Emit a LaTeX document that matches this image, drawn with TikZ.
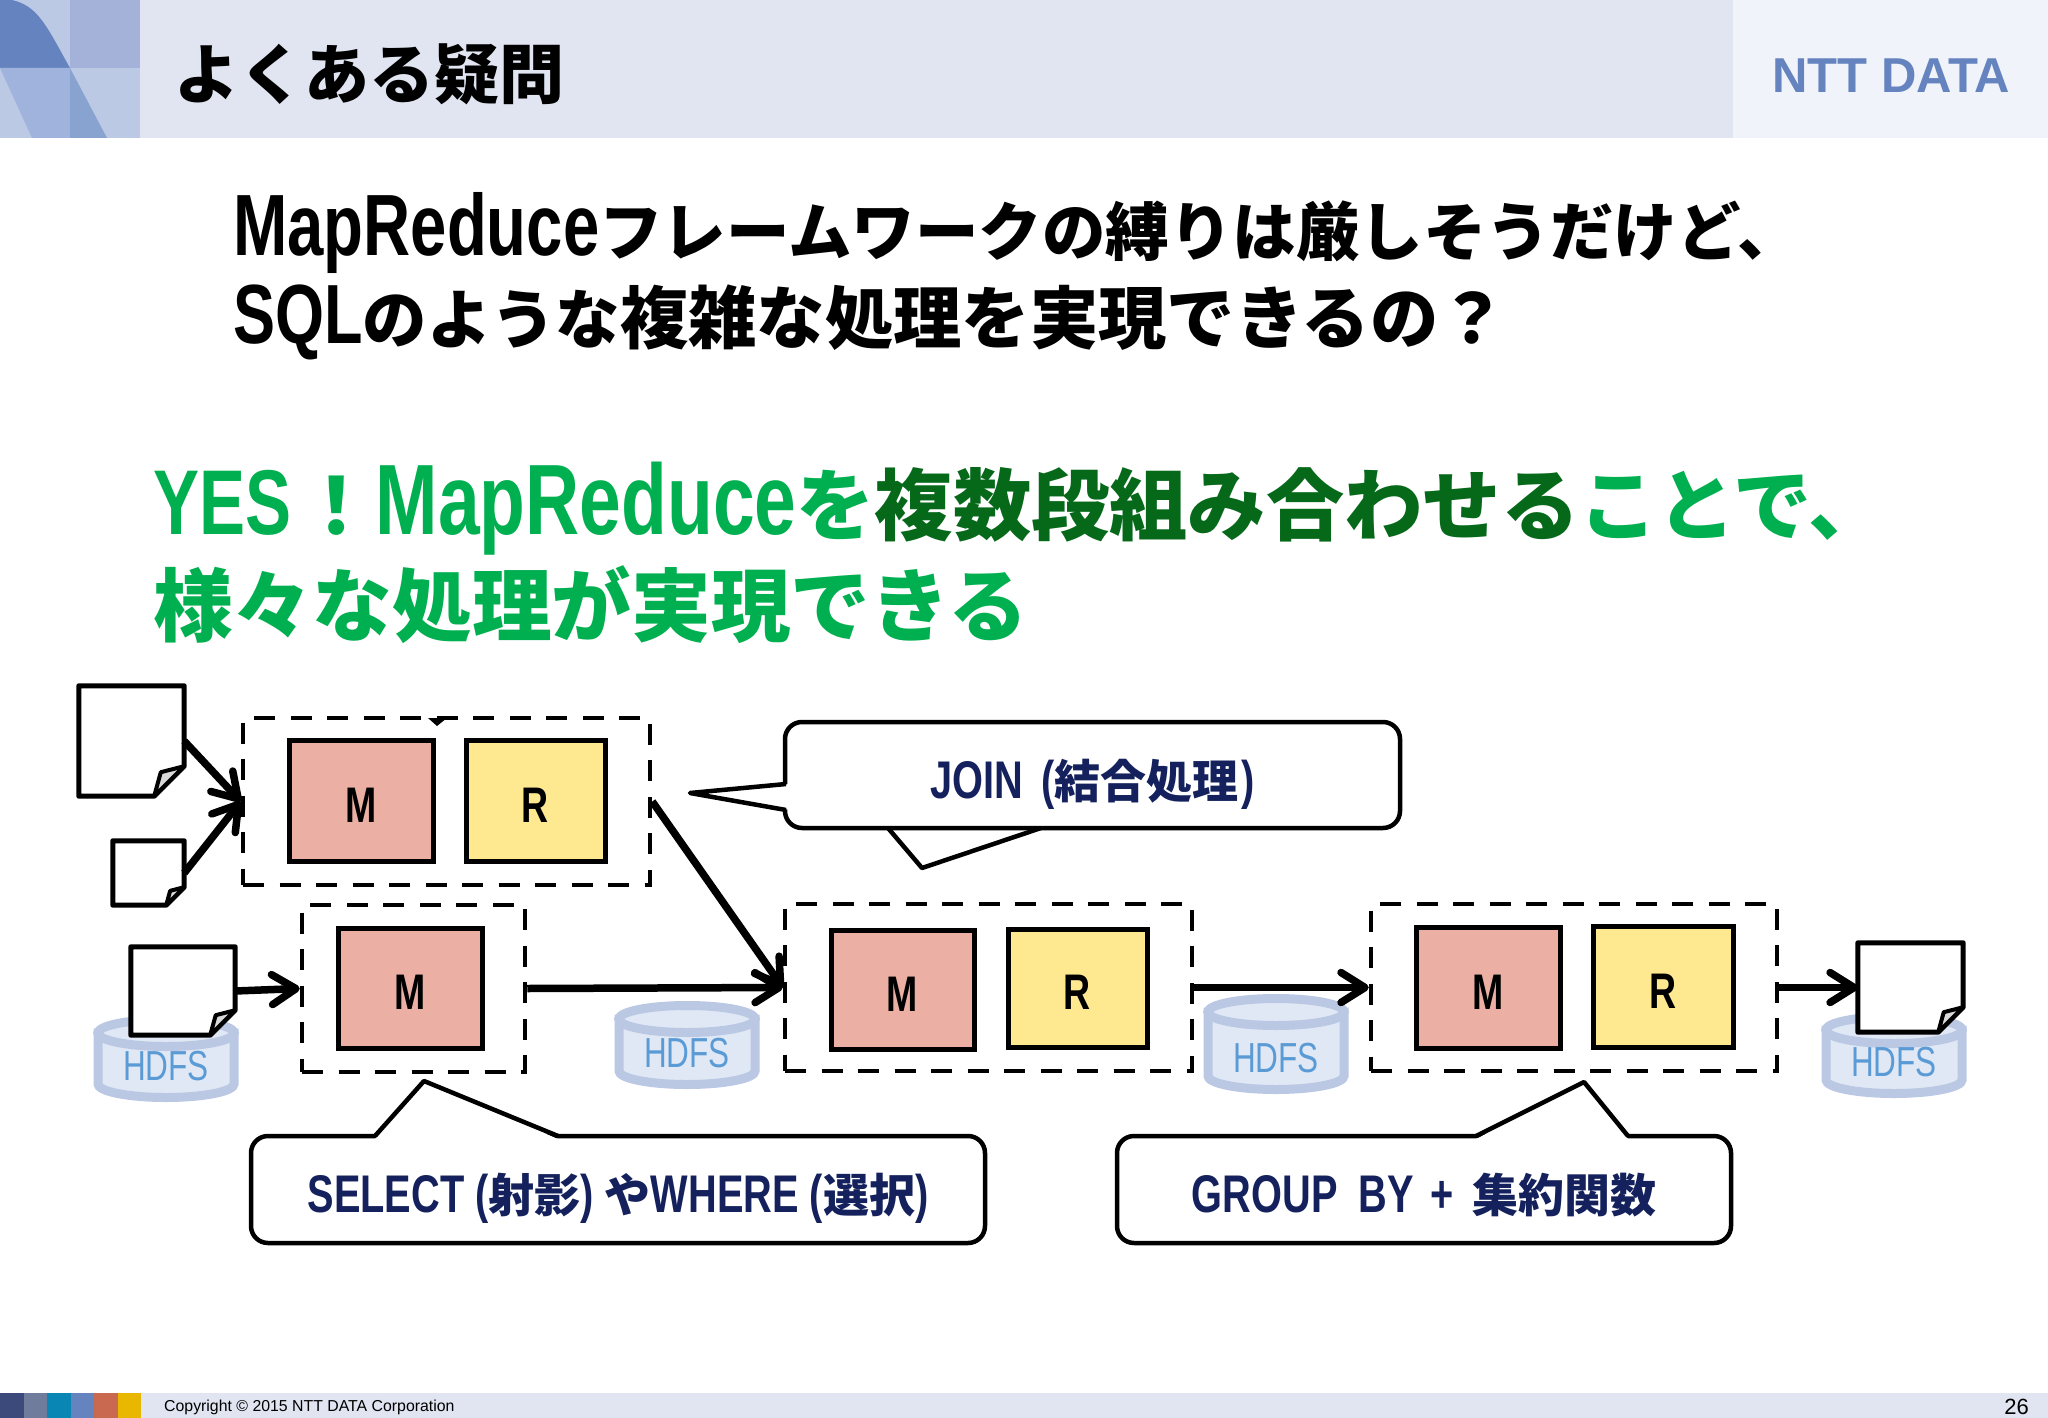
\documentclass[tikz,border=0pt]{standalone}
\usepackage{fontspec}
\usetikzlibrary{arrows.meta,calc}
\newfontfamily\jpfont{Noto Sans CJK JP}
\newfontfamily\jpblack{Noto Sans CJK JP Black}
\newfontfamily\narrowsans[FakeStretch=0.75,BoldFont={Liberation Sans Bold}]{Liberation Sans}
\newfontfamily\plainsans{Liberation Sans}
\definecolor{bandblue}{HTML}{E0E5F1}
\definecolor{bandpale}{HTML}{F0F3F9}
\definecolor{logoblue}{HTML}{6584BF}
\definecolor{logobase}{HTML}{BCC9E5}
\definecolor{logomid}{HTML}{A4B2DA}
\definecolor{logosoft}{HTML}{A0B3DC}
\definecolor{logodeep}{HTML}{88A3CF}
\definecolor{stripnavy}{HTML}{3B4A7B}
\definecolor{stripgrey}{HTML}{6F7C9C}
\definecolor{stripteal}{HTML}{0A86B4}
\definecolor{stripred}{HTML}{C9694F}
\definecolor{stripgold}{HTML}{E9B700}
\definecolor{yesgreen}{HTML}{00B050}
\definecolor{darkgreen}{HTML}{06691A}
\definecolor{notenavy}{HTML}{14215C}
\definecolor{mapred}{HTML}{EBAFA4}
\definecolor{redyellow}{HTML}{FEE890}
\definecolor{cylline}{HTML}{BBC8E4}
\definecolor{cylfill}{HTML}{E0E8F5}
\definecolor{hdfsblue}{HTML}{5B9BD5}
\newcommand{\lat}[2]{{\narrowsans\fontsize{#1}{#1}\selectfont #2}}
\tikzset{
  flow/.style={->,line width=7.5pt,>={Straight Barb[length=24pt,width=30pt,round]}},
  stepgroup/.style={draw,dashed,line width=4.5pt,dash pattern=on 21pt off 15.5pt},
  mapbox/.style={draw,fill=mapred,line width=5pt,text height=43pt,text depth=0pt,font=\narrowsans\bfseries\fontsize{50}{50}\selectfont},
  reducebox/.style={draw,fill=redyellow,line width=5pt,text height=43pt,text depth=0pt,font=\narrowsans\bfseries\fontsize{50}{50}\selectfont},
  notebox/.style={draw,fill=white,line width=4.5pt,rounded corners=17pt,text=notenavy,text height=46pt,text depth=0pt,font=\jpfont\bfseries\fontsize{46}{46}\selectfont},
  headline/.style={anchor=base west,inner sep=0pt,font=\jpfont\bfseries\fontsize{63.5}{64}\selectfont},
  greenline/.style={anchor=base west,inner sep=0pt,text=yesgreen,font=\jpfont\bfseries\fontsize{78.3}{78}\selectfont},
  cyl/.style={draw=cylline,fill=cylfill,line width=9pt},
  paperbox/.style={inner sep=0pt,minimum width=#1},
}
\newcommand{\paper}[6]{
  \node[paperbox=#4pt,minimum height=#5pt] (#1) at (#2,#3) {};
  \draw[line width=5pt,line join=round,fill=white] (#1.north west) -- (#1.north east) -- ([yshift=#6pt]#1.south east) -- ([xshift=-#6pt]#1.south east) -- (#1.south west) -- cycle;
  \draw[line width=4pt,line join=round,fill=black!15] ([yshift=#6pt]#1.south east) -- ([xshift=-#6pt+0.22*#6pt,yshift=#6pt-0.2*#6pt]#1.south east) -- ([xshift=-#6pt]#1.south east) -- cycle;
}
\newcommand{\hdfs}[4]{
  \draw[cyl] (#2-68,#3+18) -- (#2-68,#4-18) arc[start angle=180,end angle=0,x radius=68,y radius=13.5] -- (#2+68,#3+18) -- cycle;
  \draw[cyl] (#2,#3+18) ellipse[x radius=68,y radius=13.5];
  \node[text=hdfsblue,inner sep=0pt,font=\narrowsans\fontsize{42}{42}\selectfont] (#1) at (#2,#4-36) {HDFS};
}
\newcommand{\notetip}[4]{
  \fill[white] ($#1+#4$) -- #2 -- ($#3+#4$) -- cycle;
  \draw[line width=4.5pt,line join=round] #1 -- #2 -- #3;
}
\begin{document}
\begin{tikzpicture}[x=1pt,y=-1pt]
  \useasboundingbox (0,0) rectangle (2048,1418);
  \fill[white] (0,0) rectangle (2048,1418);
  \fill[bandblue] (0,0) rectangle (2048,138);
  \fill[bandpale] (1733,0) rectangle (2048,138);
  \fill[bandblue] (0,1393) rectangle (2048,1418);

  \fill[logobase] (0,0) rectangle (140,138);
  \fill[logomid] (70,0) rectangle (140,68);
  \fill[logoblue] (0,0) -- (12,0) .. controls (38,6) and (46,25) .. (70,68) -- (0,68) -- cycle;
  \fill[logosoft] (0,68) -- (70,68) -- (70,138) -- (32,138) -- cycle;
  \fill[logodeep] (70,68) -- (107,138) -- (70,138) -- cycle;

  \node[headline,font=\jpblack\fontsize{65}{65}\selectfont] (title) at (174,99) {よくある疑問};
  \node[inner sep=0pt,text=logoblue,font=\plainsans\bfseries\fontsize{49}{49}\selectfont] (company) at (1891,76) {NTT DATA};

  \node[headline] (askone) at (233,255) {\lat{87}{MapReduce}フレームワークの縛りは厳しそうだけど、};
  \node[headline,font=\jpfont\bfseries\fontsize{68.3}{68}\selectfont] (asktwo) at (233,343) {\lat{84}{SQL}{\fontsize{64.4}{68}\selectfont のような}複雑な処理を実現できるの？};
  \node[greenline] (yesone) at (153,534) {\lat{92}{YES}\hspace{6pt}！\lat{100}{MapReduce}を\textcolor{darkgreen}{複数段組み合わせる}ことで、};
  \node[greenline,font=\jpfont\bfseries\fontsize{79.7}{80}\selectfont] (yestwo) at (153,635) {様々な処理が実現できる};

  \hdfs{storeA}{166}{1015}{1102}
  \hdfs{storeB}{687}{1001}{1089}
  \hdfs{storeC}{1276}{994}{1094}
  \hdfs{storeD}{1894}{1012}{1098}

  \node[stepgroup,minimum width=407pt,minimum height=167pt] (joingroup) at (446.5,801.5) {};
  \node[stepgroup,minimum width=223pt,minimum height=167pt] (selectgroup) at (413.5,988.5) {};
  \node[stepgroup,minimum width=407pt,minimum height=167pt] (middlegroup) at (988.5,987.5) {};
  \node[stepgroup,minimum width=406pt,minimum height=167pt] (lastgroup) at (1574,987.5) {};
  \fill (428,718) -- (447,718) -- (437,726) -- cycle;

  \node[mapbox,minimum width=144pt,minimum height=121pt] (mapA) at (361,801) {M};
  \node[reducebox,minimum width=139pt,minimum height=121pt] (redA) at (535.5,800.5) {R};
  \node[mapbox,minimum width=144pt,minimum height=120pt] (mapB) at (410,988) {M};
  \node[mapbox,minimum width=143pt,minimum height=119pt] (mapC) at (902.5,990) {M};
  \node[reducebox,minimum width=139pt,minimum height=118pt] (redC) at (1077.5,988) {R};
  \node[mapbox,minimum width=144pt,minimum height=121pt] (mapD) at (1488,987.5) {M};
  \node[reducebox,minimum width=140pt,minimum height=121pt] (redD) at (1663,986.5) {R};

  \paper{paperA}{131.5}{741}{105}{110}{30}
  \paper{paperB}{148.5}{873}{71}{64}{18}
  \paper{paperC}{183}{991}{104}{88}{25}
  \paper{paperD}{1910.5}{987.5}{105}{89}{25}

  \draw[flow] (paperA.east) -- (joingroup.west);
  \draw[flow] (paperB.east) -- (joingroup.west);
  \draw[flow] (paperC.east) -- (selectgroup.west);
  \draw[flow] (selectgroup.east) -- (middlegroup.west);
  \draw[flow] (joingroup.east) -- (middlegroup.west);
  \draw[flow] (middlegroup.east) -- (lastgroup.west);
  \draw[flow] (lastgroup.east) -- (paperD.west);

  \notetip{(888,828)}{(922,868)}{(1041,828)}{(0,0)}
  \node[notebox,minimum width=615pt,minimum height=106pt] (joinnote) at (1092.5,775) {\lat{53}{JOIN\hspace{7pt} (}結合処理\lat{53}{\hspace{3pt})}\hspace{10pt}};
  \notetip{(786,784)}{(690,793)}{(786,810)}{(4,0)}
  \node[notebox,minimum width=734pt,minimum height=107pt] (selectnote) at (618,1189.5) {\lat{53}{SELECT (}射影\lat{53}{) }や\lat{53}{WHERE (}選択\lat{53}{)}\hspace{6pt}};
  \notetip{(375,1136)}{(424,1081)}{(558,1136)}{(0,3)}
  \node[notebox,minimum width=614pt,minimum height=107pt] (groupnote) at (1424,1189.5) {\lat{53}{GROUP\hspace{10pt} BY\hspace{6pt} +\hspace{7pt} }集約関数};
  \notetip{(1476,1136)}{(1584,1082)}{(1628,1136)}{(0,3)}

  \fill[stripnavy] (0,1393) rectangle (24,1418);
  \fill[stripgrey] (24,1393) rectangle (47,1418);
  \fill[stripteal] (47,1393) rectangle (71,1418);
  \fill[logoblue] (71,1393) rectangle (94,1418);
  \fill[stripred] (94,1393) rectangle (118,1418);
  \fill[stripgold] (118,1393) rectangle (141,1418);
  \node[anchor=west,inner sep=0pt,font=\plainsans\fontsize{15.85}{16}\selectfont] (copyright) at (164,1407) {Copyright © 2015 NTT DATA Corporation};
  \node[anchor=east,inner sep=0pt,font=\plainsans\fontsize{22}{22}\selectfont] (pagenum) at (2029,1407) {26};
\end{tikzpicture}
\end{document}
